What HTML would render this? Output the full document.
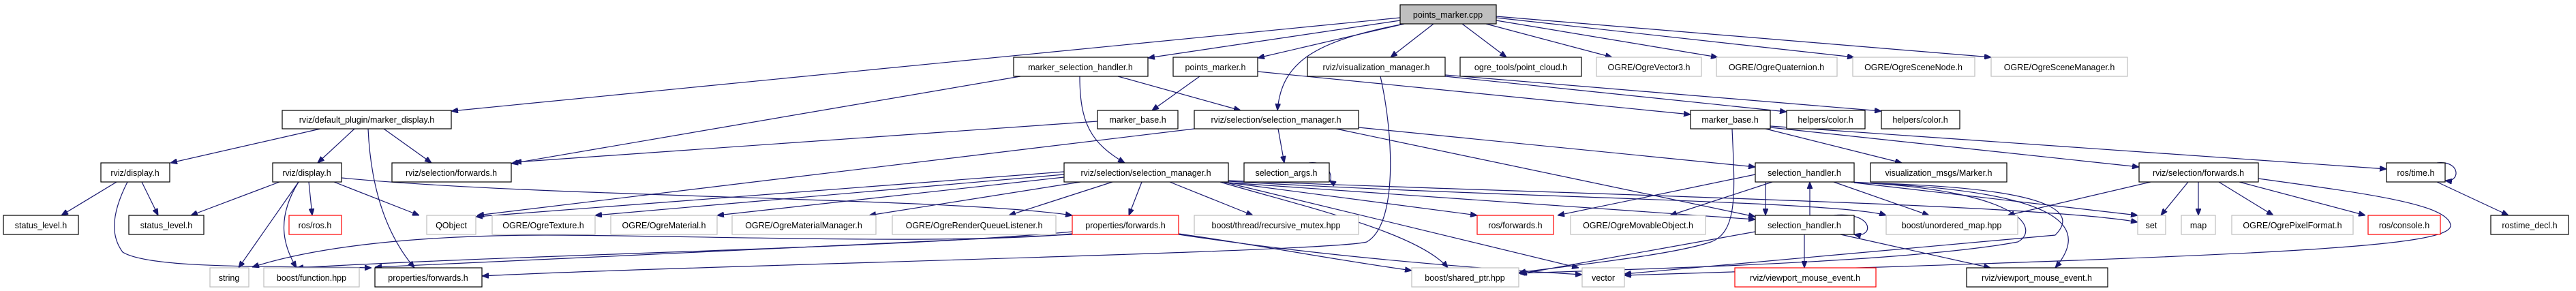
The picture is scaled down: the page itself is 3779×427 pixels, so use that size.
<!DOCTYPE html>
<html><head><meta charset="utf-8"><style>
html,body{margin:0;padding:0;background:#fff;}
svg{display:block;}
text{font-family:"Liberation Sans",sans-serif;font-size:12.5px;fill:#000;}
.e{fill:none;stroke:#191970;stroke-width:1.2;}
.b{fill:#fff;stroke:#000;stroke-width:1.2;}
.g{fill:#fff;stroke:#bfbfbf;stroke-width:1.2;}
.r{fill:#fff;stroke:#ff0000;stroke-width:1.2;}
</style></head><body>
<svg width="3779" height="427" viewBox="0 0 3779 427" xmlns="http://www.w3.org/2000/svg">
<defs><marker id="a" viewBox="0 0 10 8" refX="10" refY="4" markerWidth="10" markerHeight="8" markerUnits="userSpaceOnUse" orient="auto"><path d="M0,0 L10,4 L0,8 z" fill="#191970" stroke="#191970"/></marker></defs>
<g class="e" marker-end="url(#a)">
<path d="M2054,26 L662,163"/>
<path d="M2054,30 L1684,85"/>
<path d="M2060,35 L1845,85"/>
<path d="M2060,35 C1930,60 1880,90 1874,162"/>
<path d="M2103,35 L2040,84"/>
<path d="M2145,35 L2210,84"/>
<path d="M2180,35 L2365,84"/>
<path d="M2195,30 L2520,84"/>
<path d="M2195,26 L2720,84"/>
<path d="M2195,24 L2921,84"/>
<path d="M470,189 L250,239"/>
<path d="M520,189 L466,239"/>
<path d="M540,189 C545,300 580,360 608,393"/>
<path d="M563,189 L633,239"/>
<path d="M171,267 L90,316"/>
<path d="M208,267 L232,316"/>
<path d="M187,267 C160,320 165,350 180,370 C220,395 400,390 545,393"/>
<path d="M410,267 L280,316"/>
<path d="M453,267 L458,316"/>
<path d="M438,267 L350,393"/>
<path d="M438,267 C405,320 415,360 435,393"/>
<path d="M490,267 L615,316"/>
<path d="M501,261 C800,290 1400,290 1573,316"/>
<path d="M1497,112 L750,240"/>
<path d="M1584,112 C1584,180 1600,210 1650,239"/>
<path d="M1640,112 L1820,162"/>
<path d="M1760,112 L1690,162"/>
<path d="M1845,105 L2480,168"/>
<path d="M1610,178 L755,238"/>
<path d="M1752,189 L700,316"/>
<path d="M1875,189 L1884,239"/>
<path d="M1993,187 L2575,245"/>
<path d="M1960,189 L2575,318"/>
<path d="M2025,112 C2045,200 2050,330 2005,355 C1950,370 1000,390 707,405"/>
<path d="M2120,112 L2621,164"/>
<path d="M2120,110 L2760,163"/>
<path d="M2590,189 L2790,239"/>
<path d="M2597,187 L3138,245"/>
<path d="M2597,185 L3501,248"/>
<path d="M2541,189 C2545,280 2550,340 2510,355 C2450,375 2300,390 2228,400"/>
<path d="M1561,256 L873,316"/>
<path d="M1561,260 L1052,316"/>
<path d="M1585,267 L1275,316"/>
<path d="M1561,252 L698,318"/>
<path d="M1632,267 L1480,316"/>
<path d="M1675,267 L1656,316"/>
<path d="M1716,267 L1838,316"/>
<path d="M1802,268 L2167,316"/>
<path d="M1802,268 L2575,322"/>
<path d="M1790,267 C1900,300 2080,340 2124,393"/>
<path d="M1795,267 L2316,393"/>
<path d="M1802,266 C2200,290 2700,295 2767,316"/>
<path d="M1802,265 C2300,285 3000,300 3136,326"/>
<path d="M1573,343 C1400,360 1000,345 800,345 C700,345 500,350 370,392"/>
<path d="M1573,344 C1300,360 900,375 550,392"/>
<path d="M1573,340 C1300,365 800,372 435,393"/>
<path d="M1729,343 C1850,360 1950,380 2071,397"/>
<path d="M1729,344 C1900,370 2100,390 2321,403"/>
<path d="M2575,256 L2285,316"/>
<path d="M2600,267 L2450,316"/>
<path d="M2590,267 L2590,316"/>
<path d="M2690,267 L2830,316"/>
<path d="M2720,268 L3136,316"/>
<path d="M2720,268 C3050,275 3040,320 3015,345 L2383,402"/>
<path d="M2720,268 C3050,280 3060,340 3015,393"/>
<path d="M2715,267 C2980,280 2990,340 2960,355 C2800,385 2400,395 2228,401"/>
<path d="M2655,316 L2655,267"/>
<path d="M2690,316 C2750,310 2750,350 2720,344"/>
<path d="M2647,344 L2647,393"/>
<path d="M2700,344 L2920,393"/>
<path d="M2575,340 L2230,402"/>
<path d="M3155,267 L2945,316"/>
<path d="M3210,267 L3170,316"/>
<path d="M3225,267 L3225,316"/>
<path d="M3255,267 L3335,316"/>
<path d="M3285,267 L3470,316"/>
<path d="M3313,262 C3480,285 3590,300 3595,330 C3600,365 3300,375 2383,404"/>
<path d="M3575,267 L3680,316"/>
<path d="M3575,239 C3610,235 3610,268 3587,265"/>
<path d="M1920,239 C1955,235 1955,268 1950,265"/>
</g>
<g>
<rect x="2054" y="7" width="141" height="28" fill="#bfbfbf" stroke="#000" stroke-width="1.2"/>
<rect class="b" x="1487" y="84" width="197" height="28"/>
<rect class="b" x="1721" y="84" width="124" height="28"/>
<rect class="b" x="1918" y="84" width="202" height="28"/>
<rect class="b" x="2142" y="84" width="178" height="28"/>
<rect class="g" x="2342" y="84" width="154" height="28"/>
<rect class="g" x="2518" y="84" width="177" height="28"/>
<rect class="g" x="2718" y="84" width="179" height="28"/>
<rect class="g" x="2921" y="84" width="200" height="28"/>
<rect class="b" x="414" y="162" width="248" height="27"/>
<rect class="b" x="1610" y="162" width="118" height="27"/>
<rect class="b" x="1752" y="162" width="241" height="27"/>
<rect class="b" x="2480" y="162" width="117" height="27"/>
<rect class="b" x="2621" y="162" width="115" height="27"/>
<rect class="b" x="2760" y="162" width="115" height="27"/>
<rect class="b" x="148" y="239" width="101" height="28"/>
<rect class="b" x="400" y="239" width="101" height="28"/>
<rect class="b" x="575" y="239" width="175" height="28"/>
<rect class="b" x="1561" y="239" width="241" height="28"/>
<rect class="b" x="1825" y="239" width="125" height="28"/>
<rect class="b" x="2575" y="239" width="145" height="28"/>
<rect class="b" x="2744" y="239" width="200" height="28"/>
<rect class="b" x="3138" y="239" width="175" height="28"/>
<rect class="b" x="3501" y="239" width="86" height="28"/>
<rect class="b" x="5" y="316" width="110" height="28"/>
<rect class="b" x="189" y="316" width="110" height="28"/>
<rect class="r" x="424" y="316" width="77" height="28"/>
<rect class="g" x="626" y="316" width="72" height="28"/>
<rect class="g" x="722" y="316" width="151" height="28"/>
<rect class="g" x="896" y="316" width="156" height="28"/>
<rect class="g" x="1074" y="316" width="211" height="28"/>
<rect class="g" x="1309" y="316" width="240" height="28"/>
<rect class="r" x="1573" y="316" width="156" height="28"/>
<rect class="g" x="1752" y="316" width="241" height="28"/>
<rect class="r" x="2167" y="316" width="112" height="28"/>
<rect class="g" x="2304" y="316" width="198" height="28"/>
<rect class="b" x="2575" y="316" width="145" height="28"/>
<rect class="g" x="2767" y="316" width="193" height="28"/>
<rect class="g" x="3136" y="316" width="41" height="28"/>
<rect class="g" x="3200" y="316" width="50" height="28"/>
<rect class="g" x="3274" y="316" width="178" height="28"/>
<rect class="r" x="3474" y="316" width="106" height="28"/>
<rect class="b" x="3654" y="316" width="114" height="28"/>
<rect class="g" x="308" y="393" width="57" height="28"/>
<rect class="g" x="387" y="393" width="140" height="28"/>
<rect class="b" x="550" y="393" width="157" height="28"/>
<rect class="g" x="2071" y="393" width="157" height="28"/>
<rect class="g" x="2321" y="393" width="62" height="28"/>
<rect class="r" x="2545" y="393" width="207" height="28"/>
<rect class="b" x="2885" y="393" width="207" height="28"/>
</g>
<g text-anchor="middle">
<text x="2124" y="26">points_marker.cpp</text>
<text x="1585" y="103">marker_selection_handler.h</text>
<text x="1783" y="103">points_marker.h</text>
<text x="2019" y="103">rviz/visualization_manager.h</text>
<text x="2231" y="103">ogre_tools/point_cloud.h</text>
<text x="2419" y="103">OGRE/OgreVector3.h</text>
<text x="2606" y="103">OGRE/OgreQuaternion.h</text>
<text x="2807" y="103">OGRE/OgreSceneNode.h</text>
<text x="3021" y="103">OGRE/OgreSceneManager.h</text>
<text x="538" y="180">rviz/default_plugin/marker_display.h</text>
<text x="1669" y="180">marker_base.h</text>
<text x="1872" y="180">rviz/selection/selection_manager.h</text>
<text x="2538" y="180">marker_base.h</text>
<text x="2678" y="180">helpers/color.h</text>
<text x="2817" y="180">helpers/color.h</text>
<text x="198" y="258">rviz/display.h</text>
<text x="450" y="258">rviz/display.h</text>
<text x="662" y="258">rviz/selection/forwards.h</text>
<text x="1681" y="258">rviz/selection/selection_manager.h</text>
<text x="1887" y="258">selection_args.h</text>
<text x="2647" y="258">selection_handler.h</text>
<text x="2844" y="258">visualization_msgs/Marker.h</text>
<text x="3225" y="258">rviz/selection/forwards.h</text>
<text x="3544" y="258">ros/time.h</text>
<text x="60" y="335">status_level.h</text>
<text x="244" y="335">status_level.h</text>
<text x="462" y="335">ros/ros.h</text>
<text x="662" y="335">QObject</text>
<text x="797" y="335">OGRE/OgreTexture.h</text>
<text x="974" y="335">OGRE/OgreMaterial.h</text>
<text x="1179" y="335">OGRE/OgreMaterialManager.h</text>
<text x="1429" y="335">OGRE/OgreRenderQueueListener.h</text>
<text x="1651" y="335">properties/forwards.h</text>
<text x="1872" y="335">boost/thread/recursive_mutex.hpp</text>
<text x="2223" y="335">ros/forwards.h</text>
<text x="2403" y="335">OGRE/OgreMovableObject.h</text>
<text x="2647" y="335">selection_handler.h</text>
<text x="2863" y="335">boost/unordered_map.hpp</text>
<text x="3156" y="335">set</text>
<text x="3225" y="335">map</text>
<text x="3363" y="335">OGRE/OgrePixelFormat.h</text>
<text x="3527" y="335">ros/console.h</text>
<text x="3711" y="335">rostime_decl.h</text>
<text x="336" y="412">string</text>
<text x="457" y="412">boost/function.hpp</text>
<text x="628" y="412">properties/forwards.h</text>
<text x="2149" y="412">boost/shared_ptr.hpp</text>
<text x="2352" y="412">vector</text>
<text x="2648" y="412">rviz/viewport_mouse_event.h</text>
<text x="2988" y="412">rviz/viewport_mouse_event.h</text>
</g>
</svg>
</body></html>
